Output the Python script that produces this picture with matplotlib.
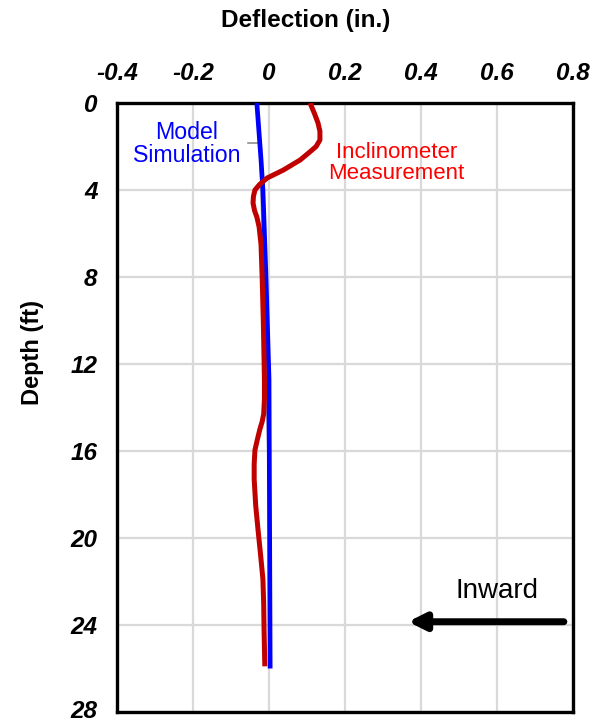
import matplotlib
matplotlib.use("Agg")
import matplotlib.pyplot as plt
import matplotlib.transforms as mtransforms
import numpy as np

plt.rcParams['font.family'] = ['Liberation Sans', 'DejaVu Sans']

# Model simulation (blue)
model_depth = [0, 2.6, 4.0, 8.0, 12.7, 26]
model_defl = [-0.032, -0.021, -0.016, -0.008, 0.0, 0.003]

# Inclinometer measurement (red)
incl_depth = [0.0, 0.5, 0.92, 1.3, 1.7, 2.0, 2.3, 2.62, 3.08, 3.45, 3.75, 4.0, 4.3, 4.6, 4.95, 5.24,
              5.7, 6.5, 8.0, 10.0, 12.7, 13.6, 14.3, 14.65, 15.0, 15.5, 15.96, 16.6, 17.3, 18.5, 19.6,
              20.8, 21.9, 23.0, 24.2, 25.9]
incl_defl = [0.108, 0.12, 0.129, 0.134, 0.134, 0.124, 0.104, 0.082, 0.038, -0.005, -0.025, -0.037,
             -0.041, -0.042, -0.038, -0.032, -0.026, -0.021, -0.018, -0.015, -0.012, -0.012, -0.014,
             -0.018, -0.024, -0.031, -0.037, -0.039, -0.039, -0.035, -0.029, -0.022, -0.016, -0.014,
             -0.013, -0.011]

xticks = [-0.4, -0.2, 0, 0.2, 0.4, 0.6, 0.8]
xticklabels = ['-0.4', '-0.2', '0', '0.2', '0.4', '0.6', '0.8']
yticks = [0, 4, 8, 12, 16, 20, 24, 28]
yticklabels = ['0', '4', '8', '12', '16', '20', '24', '28']

fig = plt.figure(figsize=(5.92, 7.23), dpi=100)
ax = fig.add_axes([117/592, 1 - 712/723, (573-117)/592, (712-103)/723])

ax.set_xlim(-0.4, 0.8)
ax.set_ylim(28, 0)
ax.set_xticks(xticks)
ax.set_yticks(yticks)
ax.set_xticklabels(xticklabels, fontsize=17.5, fontweight='bold', fontstyle='italic')
ax.set_yticklabels(yticklabels, fontsize=17.5, fontweight='bold', fontstyle='italic',
                   va='center_baseline')
ax.xaxis.tick_top()
ax.tick_params(axis='both', length=0)
ax.tick_params(axis='x', pad=13)
ax.tick_params(axis='y', pad=14)
ax.grid(True, color='#d9d9d9', linewidth=1.6)
ax.set_axisbelow(True)
for s in ax.spines.values():
    s.set_linewidth(2.4)
    s.set_color('black')

# nudge bottom tick label so it stays inside the image
last = ax.get_yticklabels()[-1]
last.set_transform(last.get_transform() + mtransforms.ScaledTranslation(0, 3/100, fig.dpi_scale_trans))

# leader line
ax.plot([-0.055, -0.024, 0.0], [1.84, 1.84, 17.9], color='#999999', linewidth=1.3, zorder=2)

ax.plot(model_defl, model_depth, color='#0000ff', linewidth=3.4, zorder=3, solid_capstyle='butt')
ax.plot(incl_defl, incl_depth, color='#c00000', linewidth=3.6, zorder=4, solid_capstyle='butt',
        solid_joinstyle='round')

ax.text(-0.217, 1.9, 'Model\nSimulation', color='#0000ff', fontsize=16.7, ha='center', va='center',
        linespacing=1.0)
ax.text(0.335, 2.76, 'Inclinometer\nMeasurement', color='#ff0000', fontsize=16, ha='center',
        va='center', linespacing=1.0)

ax.annotate('', xy=(0.366, 23.85), xytext=(0.776, 23.85),
            arrowprops=dict(arrowstyle='-|>,head_length=1.0,head_width=0.5', color='black',
                            linewidth=5, shrinkA=0, shrinkB=0))
ax.text(0.6, 22.45, 'Inward', fontsize=20, ha='center', va='center', color='black')

fig.text(306/592, 1 - 20/723, 'Deflection (in.)', fontsize=17.5, fontweight='bold', ha='center', va='center')
fig.text(32/592, 1 - 352/723, 'Depth (ft)', fontsize=17, fontweight='bold', ha='center', va='center',
         rotation=90)

fig.savefig('out.png', dpi=100)
